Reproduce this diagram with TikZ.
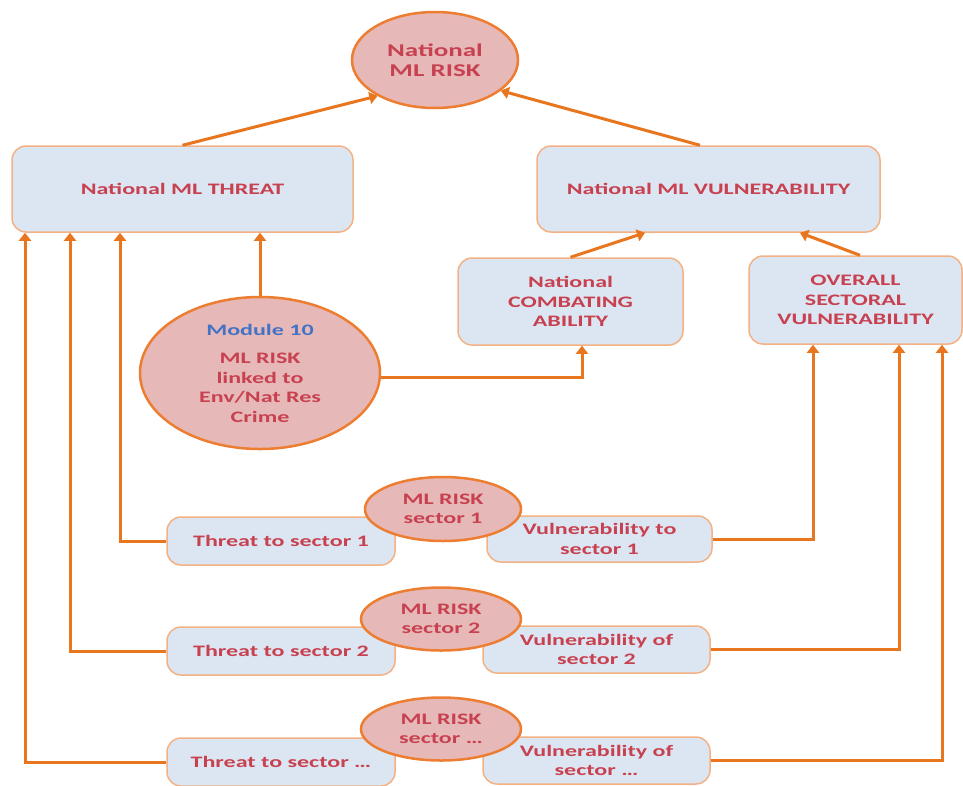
\documentclass[tikz,border=0pt]{standalone}
\usepackage{fontspec}
\setmainfont{Carlito}[FakeStretch=1.5]
\usetikzlibrary{arrows.meta,shapes.geometric}
\definecolor{txtred}{RGB}{200,65,80}
\definecolor{boxfill}{RGB}{220,230,242}
\definecolor{boxline}{RGB}{244,177,131}
\definecolor{ellfill}{RGB}{230,185,184}
\definecolor{ellline}{RGB}{237,125,49}
\definecolor{orng}{RGB}{232,118,30}
\definecolor{modblue}{RGB}{68,114,196}
\begin{document}
\begin{tikzpicture}[x=1pt,y=-1pt,
  box/.style={draw=boxline, line width=1.5pt, fill=boxfill, rounded corners=14pt,
    text=txtred, font=\fontsize{16}{19.5}\selectfont\bfseries, align=center, inner sep=0pt},
  ell/.style={ellipse, draw=ellline, line width=2.5pt, fill=ellfill, text=txtred,
    font=\fontsize{16}{19.5}\selectfont\bfseries, align=center, inner sep=0pt},
  arr/.style={draw=orng, line width=3pt, -{Triangle[width=12pt,length=8pt]}},
]
\useasboundingbox (0,0) rectangle (963,785);

% boxes
\node[box, minimum width=341, minimum height=86] (threat) at (182.5,189) {National ML THREAT};
\node[box, minimum width=343, minimum height=86] (vuln) at (708.5,189) {National ML VULNERABILITY};
\node[box, minimum width=225, minimum height=87] (comb) at (570.5,301.5) {National\\COMBATING\\ABILITY};
\node[box, minimum width=213, minimum height=88] (overall) at (855.5,300) {OVERALL\\SECTORAL\\VULNERABILITY};

\node[box, minimum width=228, minimum height=48] (t1) at (281,541) {Threat to sector 1};
\node[box, minimum width=225, minimum height=46] (v1) at (599.5,539) {Vulnerability to\\sector 1};
\node[box, minimum width=228, minimum height=48] (t2) at (281,651) {Threat to sector 2};
\node[box, minimum width=227, minimum height=47] (v2) at (596.5,649.5) {Vulnerability of\\sector 2};
\node[box, minimum width=228, minimum height=48] (t3) at (281,762) {Threat to sector \dots};
\node[box, minimum width=227, minimum height=47] (v3) at (596.5,760.5) {Vulnerability of\\sector \dots};

% ellipses
\node[ell, minimum width=166, minimum height=96, font=\fontsize{18}{20}\selectfont\bfseries] (risk) at (435,60) {National\\ML RISK};
\node[ell, minimum width=240, minimum height=152] (mod) at (260,373)
  {{\color{modblue}Module 10}\\[9pt]ML RISK\\linked to\\Env/Nat Res\\Crime};
\node[ell, minimum width=156, minimum height=64] (r1) at (443,509) {ML RISK\\sector 1};
\node[ell, minimum width=160, minimum height=63] (r2) at (441,619) {ML RISK\\sector 2};
\node[ell, minimum width=160, minimum height=63] (r3) at (441,729) {ML RISK\\sector \dots};

% connectors
\draw[arr] (threat.north) -- (risk.212.5);
\draw[arr] ([xshift=-8.5pt]vuln.north) -- (risk.335.6);
\draw[arr] (comb.north) -- ([xshift=-63.5pt]vuln.south);
\draw[arr] ([xshift=4.5pt]overall.north) -- ([xshift=91.5pt]vuln.south);
\draw[arr] (mod.north) -- (mod.north |- threat.south);
\draw[arr] ([yshift=-4pt]mod.east) -| ([xshift=11.5pt]comb.south);

\draw[arr] (t1.west) -| ([xshift=-62.5pt]threat.south);
\draw[arr] (t2.west) -| ([xshift=-112.5pt]threat.south);
\draw[arr] (t3.west) -| ([xshift=-157.5pt]threat.south);

\draw[arr] (v1.east) -| ([xshift=-42.5pt]overall.south);
\draw[arr] (v2.east) -| ([xshift=43.5pt]overall.south);
\draw[arr] (v3.east) -| ([xshift=86.5pt]overall.south);
\end{tikzpicture}
\end{document}
